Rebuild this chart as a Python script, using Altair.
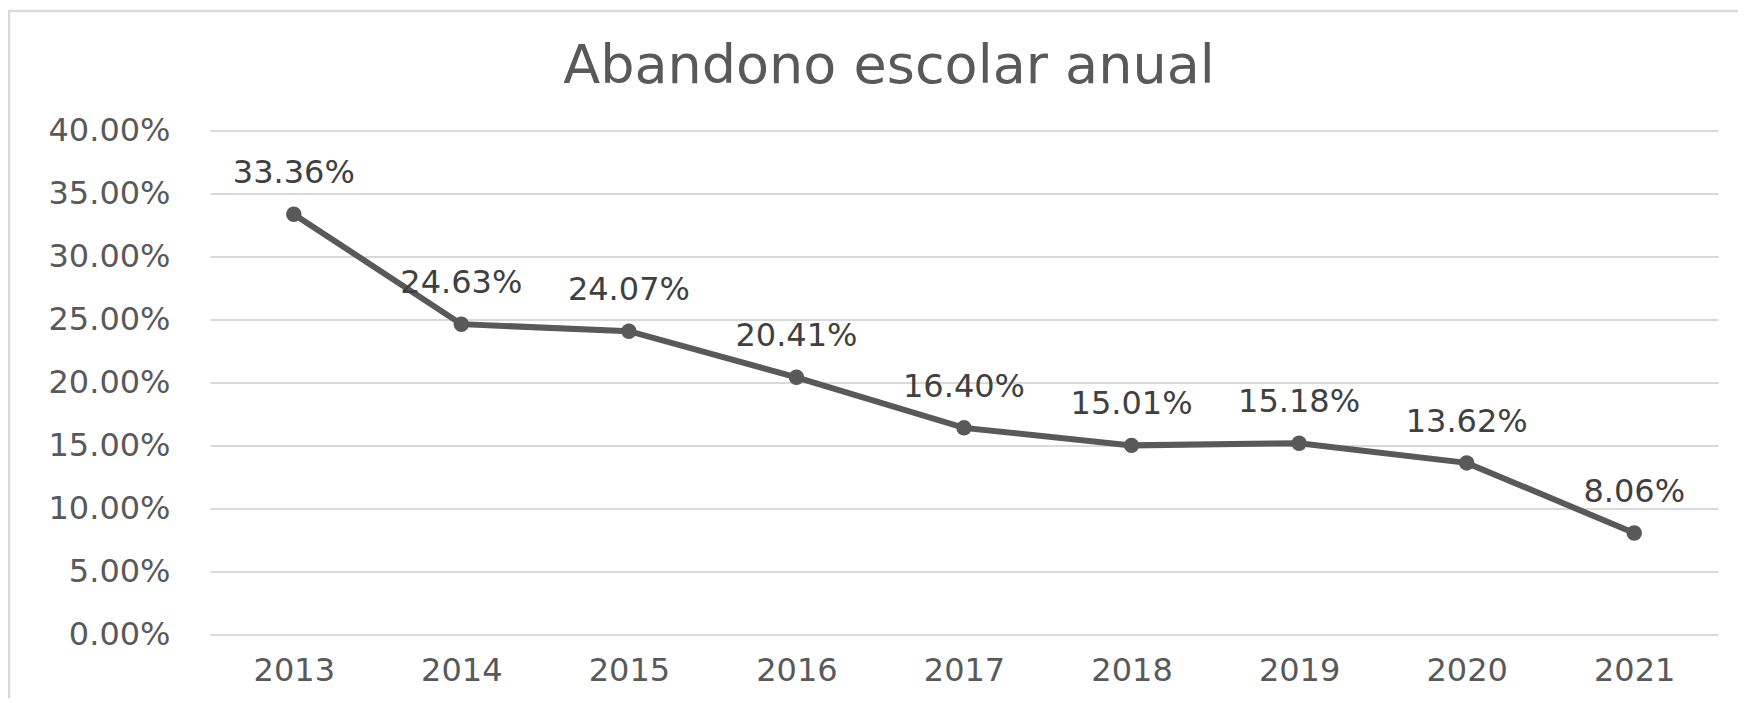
import altair as alt
import pandas as pd

years = ["2013", "2014", "2015", "2016", "2017", "2018", "2019", "2020", "2021"]
rates = [0.3336, 0.2463, 0.2407, 0.2041, 0.1640, 0.1501, 0.1518, 0.1362, 0.0806]
y_ticks = [0.0, 0.05, 0.10, 0.15, 0.20, 0.25, 0.30, 0.35, 0.40]
title_text = "Abandono escolar anual"

df = pd.DataFrame({"year": years, "rate": rates})

W, H = 1508, 504
FONT = "DejaVu Sans"

base = alt.Chart(df).encode(
    x=alt.X("year:N", sort=years,
            scale=alt.Scale(type="point", padding=0.5),
            axis=alt.Axis(title=None, labelAngle=0, ticks=False, tickSize=0, domain=False,
                          grid=False, labelFont=FONT, labelFontSize=32,
                          labelColor="#595959", labelPadding=21)),
    y=alt.Y("rate:Q", scale=alt.Scale(domain=[0, 0.4], nice=False, zero=True),
            axis=alt.Axis(title=None, values=y_ticks, format=".2%", ticks=False, tickSize=0,
                          domain=False, grid=True, gridColor="#d9d9d9", gridWidth=2,
                          labelFont=FONT, labelFontSize=32, labelColor="#595959",
                          labelPadding=40)),
)

line = base.mark_line(color="#595959", strokeWidth=6)
points = base.mark_point(filled=True, shape="circle", size=240, color="#595959", opacity=1)
labels = base.mark_text(font=FONT, fontSize=32, color="#404040", dy=-41,
                        baseline="middle", align="center").encode(
    text=alt.Text("rate:Q", format=".2%"))

frame = alt.Chart(pd.DataFrame({"k": [0]})).mark_rect(
    fill=None, stroke="#d9d9d9", strokeWidth=2.5).encode(
    x=alt.value(-201), x2=alt.value(W + 60),
    y=alt.value(-119.5), y2=alt.value(H + 90))

chart = alt.layer(frame, line, points, labels).properties(
    width=W, height=H,
    title=alt.TitleParams(title_text, font=FONT, fontSize=54, fontWeight="normal",
                          color="#595959", anchor="middle", dx=-75, offset=36, dy=120),
    autosize=alt.AutoSizeParams(type="none"),
    padding={"left": 202, "top": 122.5, "right": 20, "bottom": 63},
).configure(background="white").configure_view(stroke=None)

chart.save("out.html", embed_options={"renderer": "svg", "actions": False})
